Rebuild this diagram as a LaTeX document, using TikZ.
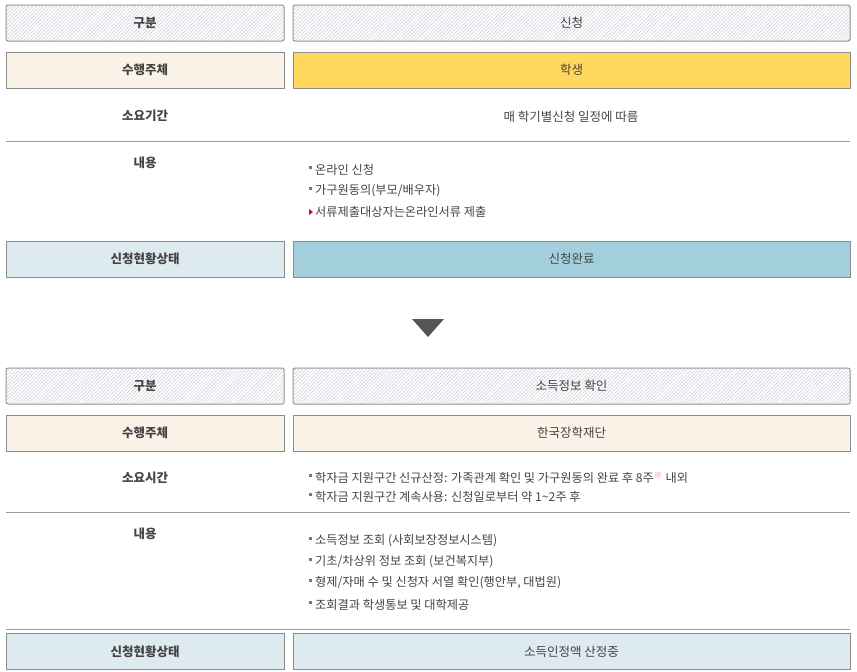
\documentclass[tikz,border=0pt]{standalone}
\usepackage{fontspec}
\setmainfont{Noto Sans CJK KR}
\usepackage{xcolor}
\usetikzlibrary{positioning, patterns.meta}

\definecolor{lineGray}{HTML}{8C8C8C}
\definecolor{sepGray}{HTML}{9A9A9A}
\definecolor{hatchGray}{HTML}{C6CAD4}
\definecolor{textGray}{HTML}{444444}
\definecolor{creamFill}{HTML}{FBF3E8}
\definecolor{yellowFill}{HTML}{FFD75F}
\definecolor{paleBlue}{HTML}{DDEBF0}
\definecolor{deepBlue}{HTML}{A3CEDC}
\definecolor{bulletGray}{HTML}{777777}
\definecolor{bulletRed}{HTML}{E0001B}
\definecolor{noteRed}{HTML}{F28A8A}
\definecolor{arrowGray}{HTML}{555555}

\begin{document}
\begin{tikzpicture}[
    x=1pt, y=-1pt,
    font=\fontsize{12.5}{14}\selectfont,
    text=textGray,
    cell/.style={
        draw=lineGray,
        line width=1pt,
        minimum height=36pt,
        inner sep=0pt
    },
    leftcell/.style={cell, minimum width=278pt, font=\fontsize{12.5}{14}\selectfont\bfseries},
    rightcell/.style={cell, minimum width=557pt, right=8pt of #1},
    hatched/.style={
        rounded corners=2pt,
        fill=white,
        postaction={pattern={Lines[angle=45, distance=2.5pt, line width=0.5pt]}, pattern color=hatchGray}
    },
    rowlabel/.style={font=\fontsize{12.5}{14}\selectfont\bfseries},
    item/.style={anchor=west, inner sep=0pt, font=\fontsize{12.2}{14}\selectfont},
    sepline/.style={draw=sepGray, line width=1pt}
]
\useasboundingbox (0,0) rectangle (857,672);

% Top Block: 신청
\node[leftcell, hatched] (gubunA) at (145,23) {구분};
\node[rightcell=gubunA, hatched] (stageA) {신청};

\node[leftcell, fill=creamFill] (actorA) at (145,70) {수행주체};
\node[rightcell=actorA, fill=yellowFill] (whoA) {학생};

\node[rowlabel] (termA) at (145,116) {소요기간};
\node (termTextA) at (571,117) {매 학기별신청 일정에 따름};

\coordinate (sepA1) at (6,141);
\coordinate (sepA2) at (850,141);
\draw[sepline] (sepA1) -- (sepA2);

\node[rowlabel] (contA) at (145,163) {내용};
\foreach \t/\y/\i in {{온라인 신청}/170/1, {가구원동의(부모/배우자)}/191/2} {
    \node[item] (itemA\i) at (315,\y) {\t};
    \fill[bulletGray] ([xshift=-6pt, yshift=1pt]itemA\i.west) rectangle +(3,-3);
}
\node[item] (itemA3) at (315,212) {서류제출대상자는온라인서류 제출};
\fill[bulletRed] ([xshift=-6pt, yshift=3pt]itemA3.west) -- +(4,3) -- +(0,6) -- cycle;

\node[leftcell, fill=paleBlue] (stateA) at (145,259) {신청현황상태};
\node[rightcell=stateA, fill=deepBlue] (doneA) {신청완료};

% Arrow between blocks
\fill[arrowGray] (412,319) -- (444,319) -- (428,337) -- cycle;

% Bottom Block: 소득정보 확인
\node[leftcell, hatched] (gubunB) at (145,386) {구분};
\node[rightcell=gubunB, hatched] (stageB) {소득정보 확인};

\node[leftcell, fill=creamFill] (actorB) at (145,433) {수행주체};
\node[rightcell=actorB, fill=creamFill] (whoB) {한국장학재단};

\node[rowlabel] (termB) at (145,478) {소요시간};
\foreach \t/\y/\i in {{학자금 지원구간 신규산정: 가족관계 확인 및 가구원동의 완료 후 8주\textsuperscript{\color{noteRed}※} 내외}/478/1,
                      {학자금 지원구간 계속사용: 신청일로부터 약 1\textasciitilde 2주 후}/497/2} {
    \node[item] (termItemB\i) at (315,\y) {\t};
    \fill[bulletGray] ([xshift=-6pt, yshift=1pt]termItemB\i.west) rectangle +(3,-3);
}

\coordinate (sepB1) at (6,512);
\coordinate (sepB2) at (850,512);
\draw[sepline] (sepB1) -- (sepB2);

\node[rowlabel] (contB) at (145,534) {내용};
\foreach \t/\y/\i in {{소득정보 조회 (사회보장정보시스템)}/541/1,
                      {기초/차상위 정보 조회 (보건복지부)}/562/2,
                      {형제/자매 수 및 신청자 서열 확인(행안부, 대법원)}/583/3,
                      {조회결과 학생통보 및 대학제공}/605/4} {
    \node[item] (itemB\i) at (315,\y) {\t};
    \fill[bulletGray] ([xshift=-6pt, yshift=1pt]itemB\i.west) rectangle +(3,-3);
}

\coordinate (sepC1) at (6,629);
\coordinate (sepC2) at (850,629);
\draw[sepline] (sepC1) -- (sepC2);

\node[leftcell, fill=paleBlue] (stateB) at (145,651.5) {신청현황상태};
\node[rightcell=stateB, fill=paleBlue] (doneB) {소득인정액 산정중};

\end{tikzpicture}
\end{document}
